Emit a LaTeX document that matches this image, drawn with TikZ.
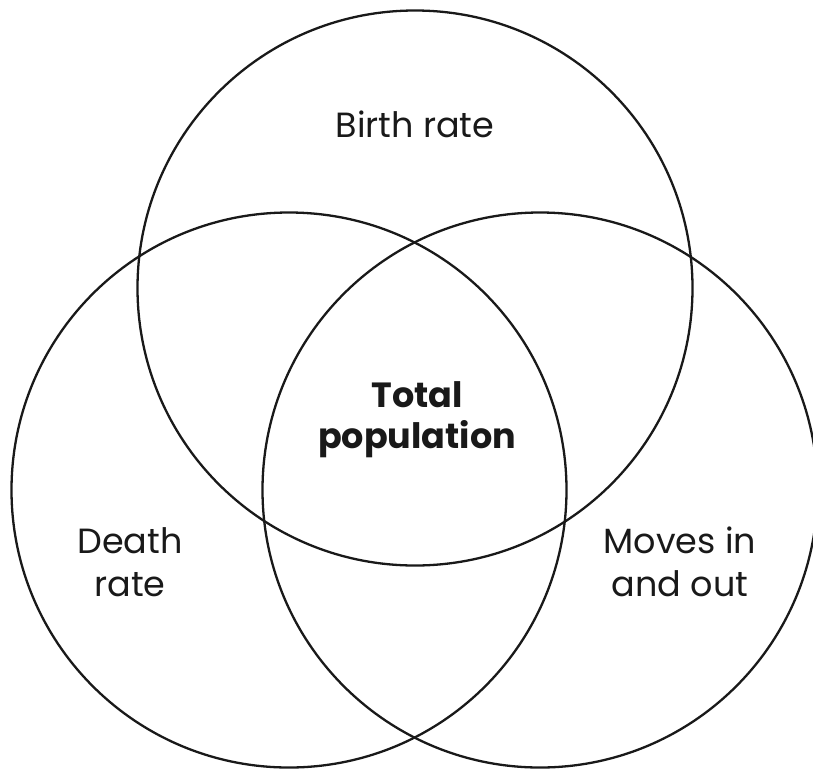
\documentclass[tikz,border=0pt]{standalone}
\usepackage{fontspec}
\setmainfont{Poppins}
\begin{document}
\begin{tikzpicture}[x=1pt,y=-1pt,
  ring/.style={draw=black!90,line width=2.3pt},
  lbl/.style={font=\fontsize{35}{43}\selectfont,align=center,anchor=base,inner sep=0pt,text=black!90},
  blbl/.style={font=\fontsize{35}{41}\selectfont\bfseries,align=center,anchor=base,inner sep=0pt,text=black!90}]
\useasboundingbox (0,0) rectangle (813,769);
\draw[ring] (415,288) circle[radius=277.5];
\draw[ring] (289,490) circle[radius=277.5];
\draw[ring] (540,490) circle[radius=277.5];
\node[lbl] (birth) at (415,137) {Birth rate};
\node[blbl] (total) at (417,448) {Total\\population};
\node[lbl] (death) at (130,596) {Death\\rate};
\node[lbl] (moves) at (680,596) {Moves in\\and out};
\end{tikzpicture}
\end{document}
